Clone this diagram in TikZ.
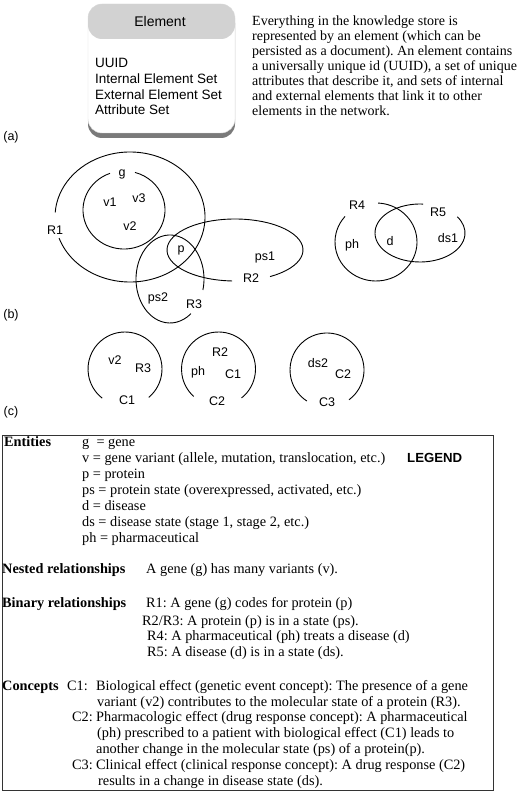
\documentclass[tikz,border=0pt]{standalone}
\usepackage{fontspec}
\setmainfont{Liberation Serif}
\setsansfont{Liberation Sans}
\usetikzlibrary{shadows}
\frenchspacing

\begin{document}
\begin{tikzpicture}[x=1pt,y=1pt,
  set/.style={line width=0.9pt},
  tag/.style={inner sep=0pt,font=\sffamily\fontsize{12.5}{14}\selectfont},
  entry/.style={anchor=base west,inner sep=0pt,font=\fontsize{14.3}{16}\selectfont},
  head/.style={entry,font=\bfseries\fontsize{14.3}{16}\selectfont},
  elembox/.style={rounded corners=14pt,fill=white,draw=gray!30,minimum width=147pt,minimum height=129pt,
    drop shadow={shadow xshift=0pt,shadow yshift=-5pt,opacity=.65,fill=black!80},
    path picture={\fill[gray!35] (path picture bounding box.north west) rectangle ([yshift=-35pt]path picture bounding box.north east);}}]

  \useasboundingbox (0,0) rectangle (520,-791);

  % (a) element
  \node[elembox] (element) at (161.5,-68.5) {};
  \node[tag,font=\sffamily\fontsize{14}{15.7}\selectfont] (elemtitle) at (160,-22) {Element};
  \node[anchor=north west,inner sep=0pt,align=left,font=\sffamily\fontsize{13.5}{15.7}\selectfont] (elemfields) at (95,-58.3)
    {UUID\\Internal Element Set\\External Element Set\\Attribute Set};
  \node[anchor=north west,inner sep=0pt,align=left,font=\fontsize{14}{15}\selectfont] (elemtext) at (252,-15.4)
    {Everything in the knowledge store is\\
     represented by an element (which can be\\
     persisted as a document). An element contains\\
     a universally unique id (UUID), a set of unique\\
     attributes that describe it, and sets of internal\\
     and external elements that link it to other\\
     elements in the network.};
  \node[tag] (parta) at (11,-137) {(a)};

  % (b) relationships
  \coordinate (R1c) at (130,-217);
  \coordinate (gc)  at (124,-210);
  \coordinate (R2c) at (235,-250);
  \coordinate (R3c) at (170,-279);
  \coordinate (R4c) at (376,-242);
  \coordinate (R5c) at (420,-233);

  \draw[set] ([shift={(-161:75 and 65)}]R1c) arc[start angle=-161,end angle=176,x radius=75,y radius=65];
  \draw[set] ([shift={(110:41 and 39)}]gc) arc[start angle=110,end angle=434.5,x radius=41,y radius=39];
  \draw[set] ([shift={(301:68 and 31)}]R2c) arc[start angle=301,end angle=627.5,x radius=68,y radius=31];
  \draw[set] ([shift={(-14.5:34 and 44)}]R3c) arc[start angle=-14.5,end angle=308,x radius=34,y radius=44];
  \draw[set] ([shift={(139:41 and 39)}]R4c) arc[start angle=139,end angle=447,x radius=41,y radius=39];
  \draw[set] ([shift={(86:45 and 29)}]R5c) arc[start angle=86,end angle=394,x radius=45,y radius=29];

  \node[tag] (R1)  at (55,-230)  {R1};
  \node[tag] (g)   at (122,-174) {g};
  \node[tag] (v1)  at (110,-202) {v1};
  \node[tag] (v3)  at (139,-198) {v3};
  \node[tag] (v2)  at (130,-226) {v2};
  \node[tag] (p)   at (181,-250) {p};
  \node[tag] (ps1) at (265,-257) {ps1};
  \node[tag] (R2)  at (251,-278) {R2};
  \node[tag] (ps2) at (158,-298) {ps2};
  \node[tag] (R3)  at (194,-304) {R3};
  \node[tag] (R4)  at (357,-205) {R4};
  \node[tag] (ph)  at (352,-245) {ph};
  \node[tag] (d)   at (390,-241) {d};
  \node[tag] (R5)  at (438,-212) {R5};
  \node[tag] (ds1) at (448,-238) {ds1};
  \node[tag] (partb) at (11,-315) {(b)};

  % (c) concepts
  \coordinate (C1c) at (125,-369);
  \coordinate (C2c) at (218.5,-369);
  \coordinate (C3c) at (327,-370);

  \draw[set] ([shift={(-50:37)}]C1c) arc[start angle=-50,end angle=232,radius=37];
  \draw[set] ([shift={(-51.5:37)}]C2c) arc[start angle=-51.5,end angle=228,radius=37];
  \draw[set] ([shift={(-53.5:37)}]C3c) arc[start angle=-53.5,end angle=237,radius=37];

  \node[tag] (C1v2) at (115,-360) {v2};
  \node[tag] (C1R3) at (143,-368) {R3};
  \node[tag] (C1)   at (127,-400) {C1};
  \node[tag] (C2R2) at (220,-352) {R2};
  \node[tag] (C2ph) at (198,-372) {ph};
  \node[tag] (C2C1) at (233,-374) {C1};
  \node[tag] (C2)   at (217,-401) {C2};
  \node[tag] (C3ds2) at (318,-363) {ds2};
  \node[tag] (C3C2) at (343,-374) {C2};
  \node[tag] (C3)   at (327,-402) {C3};
  \node[tag] (partc) at (11,-412) {(c)};

  % legend
  \draw[line width=1pt,black!80] (2,-435) rectangle (493,-790);
  \node[head] (entities) at (4,-446.5) {Entities};
  \node[entry] (eg)  at (82,-446.5) {g \ = gene};
  \node[entry] (ev)  at (82,-462.5) {v = gene variant (allele, mutation, translocation, etc.)};
  \node[entry] (ep)  at (82,-478.5) {p = protein};
  \node[entry] (eps) at (82,-494.5) {ps = protein state (overexpressed, activated, etc.)};
  \node[entry] (ed)  at (82,-510.5) {d = disease};
  \node[entry] (eds) at (82,-526.5) {ds = disease state (stage 1, stage 2, etc.)};
  \node[entry] (eph) at (82,-542.5) {ph = pharmaceutical};
  \node[entry,font=\sffamily\bfseries\fontsize{13.2}{15}\selectfont] (legendtitle) at (407,-462.5) {LEGEND};

  \node[head] (nested) at (2,-573.3) {Nested relationships};
  \node[entry] (nv) at (146,-573.3) {A gene (g) has many variants (v).};

  \node[head] (binary) at (2,-607.5) {Binary relationships};
  \node[entry] (b1) at (146,-607.5) {R1: A gene (g) codes for protein (p)};
  \node[entry] (b2) at (142,-625) {R2/R3: A protein (p) is in a state (ps).};
  \node[entry] (b4) at (147,-640.7) {R4: A pharmaceutical (ph) treats a disease (d)};
  \node[entry] (b5) at (147,-656.3) {R5: A disease (d) is in a state (ds).};

  \node[head] (concepts) at (2,-690) {Concepts};
  \node[entry] (k1)  at (67,-690) {C1:};
  \node[entry] (k1a) at (96,-690) {Biological effect (genetic event concept): The presence of a gene};
  \node[entry] (k1b) at (97,-706) {variant (v2) contributes to the molecular state of a protein (R3).};
  \node[entry] (k2)  at (72,-721.7) {C2:};
  \node[entry] (k2a) at (96,-721.7) {Pharmacologic effect (drug response concept): A pharmaceutical};
  \node[entry] (k2b) at (97,-737.3) {(ph) prescribed to a patient with biological effect (C1) leads to};
  \node[entry] (k2c) at (96,-753.3) {another change in the molecular state (ps) of a protein(p).};
  \node[entry] (k3)  at (72,-769.3) {C3:};
  \node[entry] (k3a) at (96,-769.3) {Clinical effect (clinical response concept): A drug response (C2)};
  \node[entry] (k3b) at (98,-785) {results in a change in disease state (ds).};

\end{tikzpicture}
\end{document}
